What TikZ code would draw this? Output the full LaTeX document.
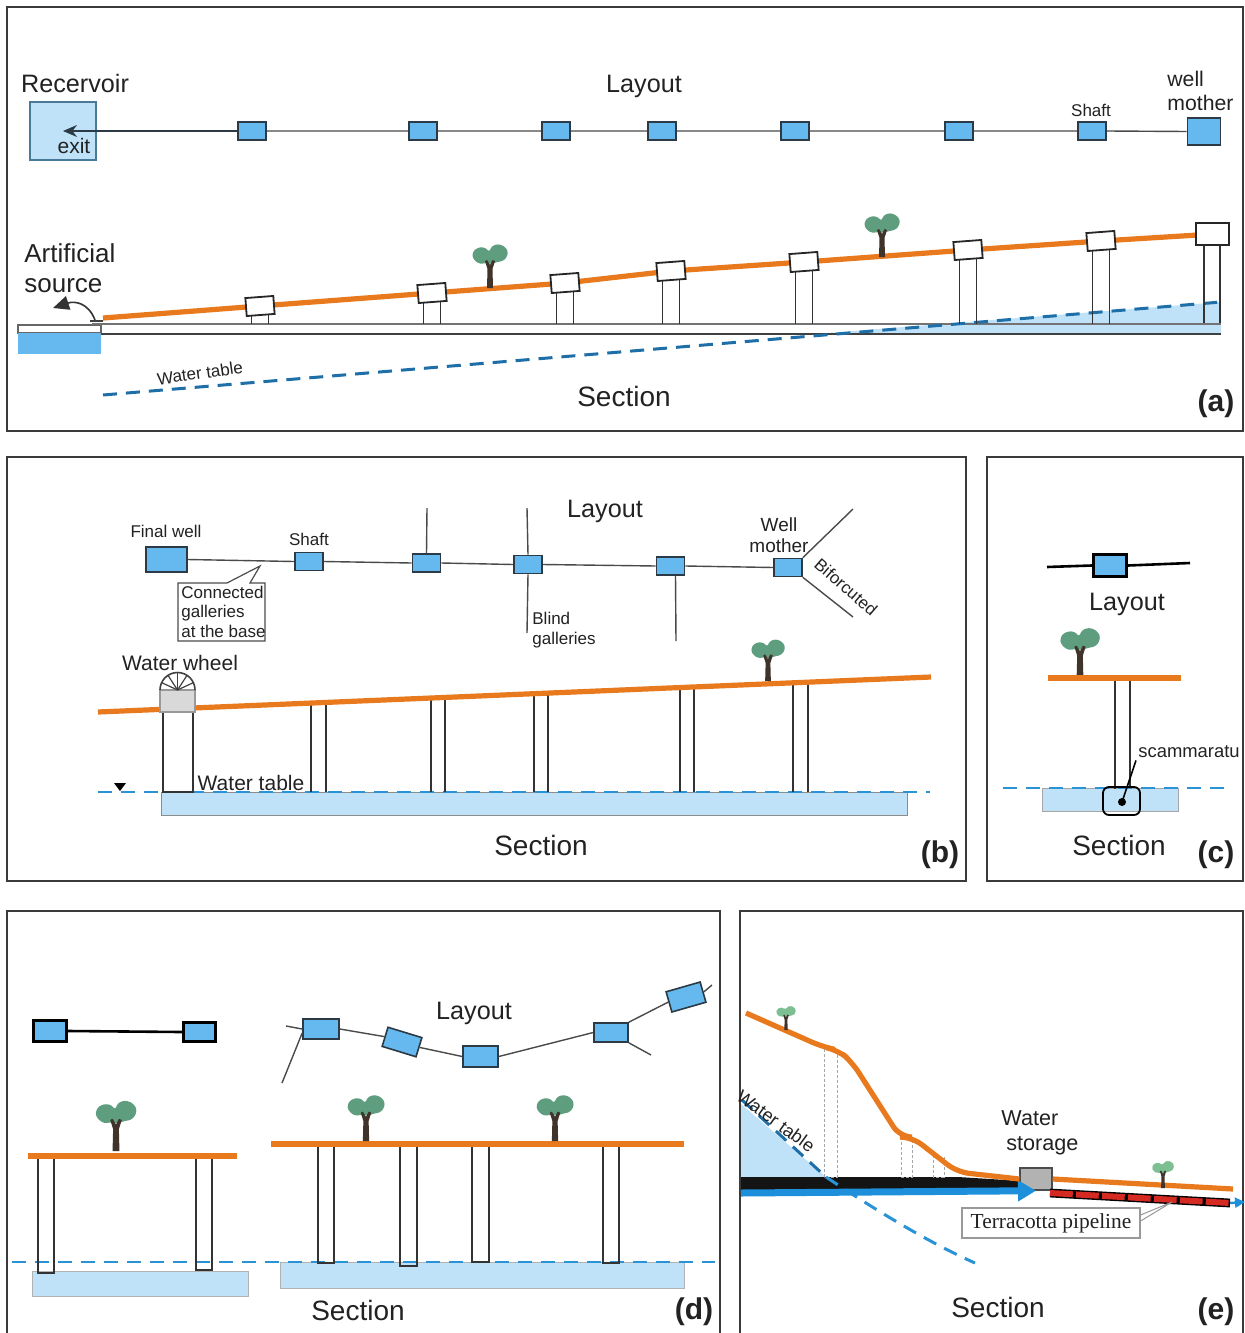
\documentclass[tikz,border=0pt]{standalone}
\usepackage{fontspec}
\setmainfont{Liberation Sans}
\newfontfamily\seriffont{Liberation Serif}
\usetikzlibrary{arrows.meta}

\definecolor{frame}{HTML}{3A3A3A}
\definecolor{boxblue}{HTML}{66B9EE}
\definecolor{boxedge}{HTML}{2B3A44}
\definecolor{waterfill}{HTML}{BFE2F8}
\definecolor{soil}{HTML}{E8791C}
\definecolor{wtdark}{HTML}{1E6EA8}
\definecolor{wtblue}{HTML}{2A93D5}
\definecolor{leaf}{HTML}{5E9E7E}
\definecolor{palm}{HTML}{7DBE92}
\definecolor{bark}{HTML}{3F332B}
\definecolor{linegray}{HTML}{4A4A4A}
\definecolor{pipe}{HTML}{D42A22}
\definecolor{arrowblue}{HTML}{1E8FDB}
\definecolor{ink}{HTML}{222222}

% a small tree standing on the ground at (x,y), scaled
\newcommand{\qtree}[4][leaf]{%
  \begin{scope}[shift={(#2,#3)}, scale=#4]
    \fill[#1, rounded corners=1.2pt] (-18,-32) -- (-16,-38) -- (-10,-41) -- (-4,-40)
      -- (-1,-36) -- (2,-42) -- (8,-44) -- (14,-42) -- (18,-37) -- (17,-31)
      -- (13,-27) -- (7,-26) -- (2,-24) -- (-4,-25) -- (-10,-24) -- (-15,-27) -- cycle;
    \fill[bark] (-3,0) -- (3,0) -- (2.5,-19) -- (5,-27) -- (2.5,-28) -- (0,-23)
      -- (-3,-28) -- (-5,-27) -- (-2.5,-19) -- cycle;
  \end{scope}}

\tikzset{
  panel/.style={draw=frame, line width=1.1pt},
  sbox/.style={draw=boxedge, fill=boxblue, line width=0.8pt, minimum width=14pt,
    minimum height=9pt, inner sep=0pt},
  headbox/.style={draw=black!85, fill=white, line width=0.9pt, minimum width=14pt,
    minimum height=9pt, inner sep=0pt},
  gal/.style={draw=linegray, line width=0.7pt},
  ground/.style={draw=soil, line width=2.6pt},
  wt/.style={dash pattern=on 7pt off 4.5pt, line width=1.5pt},
  shaftw/.style={draw=black!80, line width=0.8pt},
  txtS/.style={font=\fontsize{8.5}{9.6}\selectfont, text=ink, inner sep=0pt},
  txtM/.style={font=\fontsize{10.5}{12}\selectfont, text=ink, inner sep=0pt},
  txtL/.style={font=\fontsize{12.6}{15}\selectfont, text=ink, inner sep=0pt},
  txtXL/.style={font=\fontsize{14}{16}\selectfont, text=ink, inner sep=0pt},
  tag/.style={font=\bfseries\fontsize{15}{18}\selectfont, text=ink, inner sep=0pt},
}

\begin{document}
\begin{tikzpicture}[x=0.5pt, y=-0.5pt]
\useasboundingbox (0,0) rectangle (1245,1333);
\fill[white] (0,0) rectangle (1245,1333);

%% ---------------- (a) ----------------
\draw[panel] (7,7) rectangle (1243,431);
\node[txtL] (reclbl) at (75,83) {Recervoir};
\node[txtL] (alay) at (644,86) {Layout};
\node[draw=boxedge!50!boxblue, fill=waterfill, line width=0.8pt, minimum width=33pt,
  minimum height=29pt, inner sep=0pt] (res) at (63,131) {};
\coordinate (exitpt) at (63,131);
\node[txtM] (exitlbl) at (74,146) {exit};
\foreach \i/\x in {1/252, 2/423, 3/556, 4/662, 5/795, 6/959, 7/1092}
  \node[sbox] (la\i) at (\x,131) {};
\node[sbox, minimum width=16.5pt, minimum height=13.5pt] (lam) at (1204,131.5) {};
\draw[gal] (lam.west) -- (la7.east) (la7.west) -- (la6.east) (la6.west) -- (la5.east)
  (la5.west) -- (la4.east) (la4.west) -- (la3.east) (la3.west) -- (la2.east)
  (la2.west) -- (la1.east);
\draw[gal, -{Stealth[length=7pt, width=6pt]}, color=boxedge] (la1.west) -- (exitpt);
\node[txtS] (ashaft) at (1091,110) {Shaft};
\node[font=\fontsize{10.6}{12}\selectfont, text=ink, inner sep=0pt, align=left,
  anchor=west] (amoth) at (1167,91) {well\\mother};

% section
\draw[black!60, fill=white, line width=0.6pt] (18,325) rectangle (101,333);
\fill[boxblue] (18,333) rectangle (101,354);
\fill[waterfill] (815,334) -- (1221,302) -- (1221,334) -- cycle;
\draw[black!55, line width=0.6pt] (92,324) -- (1221,324);
\draw[black!75, line width=1pt] (101,334) -- (1221,334);
\draw[wt, wtdark] (103,395) -- (1221,302);
\draw[ground] (103,318) -- (260,306) -- (432,293) -- (565,283) -- (671,271)
  -- (804,262) -- (968,250) -- (1101,241) -- (1198,235);
\foreach \n/\x/\y in {1/260/306, 2/432/293, 3/565/283, 4/671/271, 5/804/262,
  6/968/250, 7/1101/241} {
  \draw[shaftw] (\x-8.5,\y+8) -- (\x-8.5,324) (\x+8.5,\y+8) -- (\x+8.5,324);
  \node[headbox, rotate=4.3] (sa\n) at (\x,\y) {};
}
\draw[shaftw] (1204,244) -- (1204,323) (1220,244) -- (1220,323);
\node[headbox, minimum width=16.5pt, minimum height=11pt] (sam) at (1212.5,234) {};
\qtree{490}{288}{1}
\qtree{882}{257}{1}
\node[font=\fontsize{13}{15}\selectfont, text=ink, inner sep=0pt, align=left,
  anchor=west] (artlbl) at (24,268) {Artificial\\source};
\coordinate (srcout) at (95,320);
\coordinate (srctip) at (53,308);
\draw[black!75, line width=1.2pt] (90,321) -- (103,321);
\draw[black!80, line width=0.8pt, -{Triangle[length=8pt, width=7pt]}]
  (srcout) .. controls (88,302) and (74,301) .. (srctip);
\node[txtS, rotate=8] (awt) at (200,373) {Water table};
\node[txtXL] (asec) at (624,396) {Section};
\node[tag] (atag) at (1216,404) {(a)};

%% ---------------- (b) ----------------
\draw[panel] (7,457) rectangle (966,881);
\node[txtL] (blay) at (605,511) {Layout};
\begin{scope}[every node/.append style={minimum width=15.5pt, minimum height=9.5pt}]
  \node[sbox, minimum width=20.5pt, minimum height=12.5pt] (bfw) at (166.5,559.5) {};
  \node[sbox] (bs1) at (309,561.5) {};
  \node[sbox] (bs2) at (426.5,563) {};
  \node[sbox] (bs3) at (528,564.5) {};
  \node[sbox] (bs4) at (670.5,566) {};
  \node[sbox] (bwm) at (788,567.5) {};
\end{scope}
\draw[gal] (bfw.east) -- (bs1.west) (bs1.east) -- (bs2.west) (bs2.east) -- (bs3.west)
  (bs3.east) -- (bs4.west) (bs4.east) -- (bwm.west);
\coordinate (bg1) at (427,508);
\coordinate (bg2a) at (527,508);
\coordinate (bg2b) at (527,633);
\coordinate (bg3) at (676,641);
\coordinate (bif1) at (853,509);
\coordinate (bif2) at (853,617);
\draw[gal] (bs2.north) -- (bg1) (bs3.north) -- (bg2a) (bs3.south) -- (bg2b)
  ([xshift=2.5pt]bs4.south) -- (bg3) (bwm.north east) -- (bif1) (bwm.south east) -- (bif2);
\node[txtS] (bfwl) at (166,531) {Final well};
\node[txtS] (bshl) at (309,539) {Shaft};
\node[font=\fontsize{9.5}{10.5}\selectfont, text=ink, inner sep=0pt, align=center]
  (bwml) at (779,535) {Well\\mother};
\node[txtS, rotate=-41] (bbif) at (846,587) {Biforcuted};
\node[txtS, align=left, anchor=west, font=\fontsize{8.5}{10}\selectfont] (bblind)
  at (532,630) {Blind\\galleries};
\coordinate (cgtip) at (260,566);
\draw[black!70, fill=white, line width=0.6pt] (178,583) -- (227,583) -- (cgtip)
  -- (250,583) -- (265,583) -- (265,641) -- (178,641) -- cycle;
\node[txtS, align=left, anchor=north west] (cgl) at (181,586)
  {Connected\\galleries\\at the base};

% section
\fill[waterfill] (161,792) rectangle (907,815);
\draw[black!45, line width=0.5pt] (161,792) rectangle (907,815);
\draw[wt, wtblue, line width=1.2pt] (98,792) -- (930,792);
\fill[black] (114,783) -- (126,783) -- (120,791) -- cycle;
\foreach \xa/\ya/\xb/\yb in {311/703/326/702.4, 431/698/445/697.4, 534/693.7/548/693.1,
  680/687.5/694/687, 793/682.8/808/682.2}
  \draw[shaftw] (\xa,\ya) -- (\xa,792) (\xb,\yb) -- (\xb,792);
\draw[shaftw, fill=white] (163,712) rectangle (193,792);
\draw[ground] (98,712) -- (931,677);
\node[fill=black!15, draw=black!40, line width=0.6pt, minimum width=17.5pt,
  minimum height=11pt, inner sep=0pt] (wheel) at (177.5,701) {};
\draw[black!75, line width=0.8pt] (160,690) arc[start angle=180, end angle=360, radius=17.5];
\foreach \a in {205,237,270,303,335}
  \draw[black!75, line width=0.6pt] (177.5,690) -- ++(\a:17.5);
\qtree{768}{681}{0.95}
\node[txtM] (bwwl) at (180,663) {Water wheel};
\node[txtM] (bwtl) at (251,783) {Water table};
\node[txtXL] (bsec) at (541,845) {Section};
\node[tag] (btag) at (940,855) {(b)};

%% ---------------- (c) ----------------
\draw[panel] (987,457) rectangle (1243,881);
\coordinate (cl1) at (1047,567);
\coordinate (cl2) at (1190,563);
\node[sbox, draw=black, line width=1.6pt, minimum width=16.5pt, minimum height=11pt]
  (cbox) at (1110,565.5) {};
\draw[black, line width=1.3pt] (cl1) -- (cbox.west) (cbox.east) -- (cl2);
\node[txtL] (clay) at (1127,604) {Layout};
\qtree{1080}{677}{1.12}
\fill[waterfill] (1042,788) rectangle (1178,811);
\draw[black!35, line width=0.4pt] (1042,788) rectangle (1178,811);
\draw[shaftw] (1115,678) -- (1115,789) (1130,678) -- (1130,789);
\draw[ground] (1048,678) -- (1181,678);
\draw[wt, wtblue, line width=1.2pt] (1003,788) -- (1228,788);
\draw[black, line width=0.9pt, rounded corners=3pt] (1103,787) rectangle (1140,815);
\fill[black] (1122,802) circle [radius=4];
\coordinate (cdot) at (1122,802);
\node[font=\fontsize{9.2}{10}\selectfont, text=ink, inner sep=1pt] (scam) at (1189,752) {scammaratu};
\draw[black, line width=0.8pt] (cdot) -- (scam.south west);
\node[txtXL] (csec) at (1119,845) {Section};
\node[tag] (ctag) at (1216,855) {(c)};

%% ---------------- (d) ----------------
\draw[panel] (7,1340) -- (7,911) -- (720,911) -- (720,1340);
\node[sbox, draw=black, line width=1.6pt, minimum width=16.5pt, minimum height=10.5pt]
  (dl1) at (50,1031) {};
\node[sbox, draw=black, line width=1.6pt, minimum width=16pt, minimum height=9.5pt]
  (dl2) at (199.5,1032) {};
\draw[black, line width=1.3pt] (dl1.east) -- (dl2.west);

\node[sbox, minimum width=18pt, minimum height=10pt] (dr1) at (321,1029) {};
\node[sbox, minimum width=17.7pt, minimum height=10pt, rotate=-17] (dr2) at (402,1042) {};
\node[sbox, minimum width=17.5pt, minimum height=10.5pt] (dr3) at (480.5,1056.5) {};
\node[sbox, minimum width=17pt, minimum height=9.5pt] (dr4) at (611,1032.5) {};
\node[sbox, minimum width=17.7pt, minimum height=10.5pt, rotate=16] (dr5) at (686,997) {};
\coordinate (drw) at (286,1026);
\coordinate (drd) at (282,1083);
\coordinate (dre) at (712,985);
\coordinate (drb) at (651,1055);
\draw[gal] (dr1.east) -- (dr2.west) (dr2.east) -- (dr3.west) (dr3.east) -- (dr4.west)
  (dr4.north east) -- (dr5.west) (dr5.east) -- (dre) (dr1.west) -- (drw)
  ([yshift=-2pt]dr1.west) -- (drd) (dr4.south east) -- (drb);
\node[txtL] (dlay) at (474,1013) {Layout};

% section
\fill[waterfill] (32,1271) rectangle (248,1296);
\draw[black!30, line width=0.4pt] (32,1271) rectangle (248,1296);
\fill[waterfill] (280,1262) rectangle (684,1288);
\draw[black!30, line width=0.4pt] (280,1262) rectangle (684,1288);
\draw[wt, wtblue, line width=1.2pt] (12,1262) -- (715,1262);
\foreach \xa/\xb/\yb in {38/54/1273, 196/212/1270}
  \draw[shaftw] (\xa,1156) -- (\xa,\yb) -- (\xb,\yb) -- (\xb,1156);
\foreach \xa/\xb/\yb in {318/334/1263, 400/417/1266, 472/489/1262, 603/619/1263}
  \draw[shaftw] (\xa,1144) -- (\xa,\yb) -- (\xb,\yb) -- (\xb,1144);
\draw[ground] (28,1156) -- (237,1156);
\draw[ground] (271,1144) -- (684,1144);
\qtree{116}{1151}{1.15}
\qtree{366}{1141}{1.05}
\qtree{555}{1141}{1.05}
\node[txtXL] (dsec) at (358,1310) {Section};
\node[tag] (dtag) at (694,1312) {(d)};

%% ---------------- (e) ----------------
\draw[panel] (740,1340) -- (740,911) -- (1243,911) -- (1243,1340);
\fill[waterfill] (741,1104) -- (826,1177) -- (741,1177) -- cycle;
\fill[black!92] (741,1177) -- (958,1177) -- (1022,1181) -- (1022,1190) -- (741,1190) -- cycle;
\begin{scope}[gray!70, line width=0.5pt, dash pattern=on 1.5pt off 1pt]
  \foreach \xa/\xb/\yt in {824/837/1049, 901/912/1137, 933/944/1155}
    \draw (\xa,\yt) -- (\xa,1177) -- (\xb,1177) -- (\xb,\yt);
\end{scope}
\draw[wt, wtdark] (742,1100) -- (826,1177);
\draw[wt, wtblue] (826,1177) .. controls (880,1213) and (930,1243) .. (975,1263);
\node[fill=black!30, draw=black!70, line width=0.7pt, minimum width=16pt,
  minimum height=11pt, inner sep=0pt] (stor) at (1036,1179) {};
\coordinate (eleft) at (741,1193);
\draw[arrowblue, line width=3.5pt, -{Triangle[length=9pt, width=10pt]}] (eleft) -- (stor.south);
\draw[ground, rounded corners=6pt] (746,1013) -- (823,1047) -- (838,1050) -- (852,1062)
  -- (900,1137) -- (912,1137) -- (957,1172) -- (stor.west);
\coordinate (eend) at (1233,1189);
\draw[ground] (stor.east) -- (eend);
\coordinate (p0) at (1050,1193);
\coordinate (p1) at (1230,1203);
\draw[black, line width=4.4pt] (p0) -- (p1);
\draw[pipe, line width=3pt, dash pattern=on 11.4pt off 1.6pt] (p0) -- (p1);
\coordinate (pout) at (1245,1202);
\draw[arrowblue, line width=1.2pt, -{Triangle[length=5pt, width=5pt]}] (p1) -- (pout);
\qtree[palm]{786}{1030}{0.55}
\qtree[palm]{1163}{1188}{0.62}
\node[draw=black!40, fill=white, line width=0.6pt, minimum width=89pt, minimum height=15pt,
  inner sep=0pt, font=\seriffont\fontsize{10.7}{12}\selectfont, text=ink]
  (tcl) at (1051,1223) {Terracotta pipeline};
\coordinate (tctip) at (1172,1202);
\draw[black!40, line width=0.5pt] ([yshift=4pt]tcl.east) -- (tctip) -- ([yshift=1pt]tcl.east);
\node[txtM, font=\fontsize{10.8}{12.5}\selectfont, align=left, anchor=west]
  (estor) at (1001,1133) {Water\\\hspace*{2.5pt}storage};
\node[font=\fontsize{9}{10}\selectfont, text=ink, inner sep=0pt, rotate=-36]
  (ewt) at (776,1121) {Water table};
\node[txtXL] (esec) at (998,1307) {Section};
\node[tag] (etag) at (1216,1312) {(e)};
\end{tikzpicture}
\end{document}
